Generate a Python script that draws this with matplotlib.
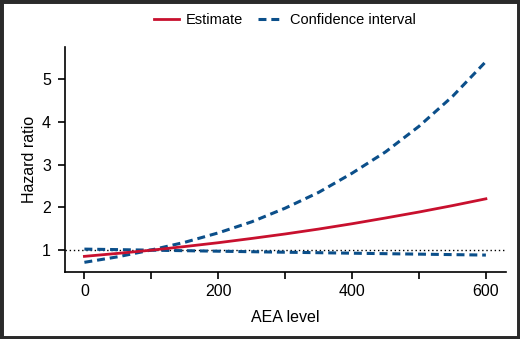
import numpy as np
import matplotlib.pyplot as plt
from matplotlib.patches import Rectangle
from matplotlib.ticker import MultipleLocator

# values, every 50 units of AEA
aea = [0, 50, 100, 150, 200, 250, 300, 350, 400, 450, 500, 550, 600]
estimate = [0.85, 0.92, 0.995, 1.08, 1.17, 1.27, 1.375, 1.49, 1.615, 1.75, 1.89, 2.04, 2.2]
ci_a = [0.71, 0.84, 1.0, 1.18, 1.40, 1.66, 1.98, 2.35, 2.80, 3.30, 3.90, 4.60, 5.42]
ci_b = [1.02, 1.008, 0.995, 0.983, 0.971, 0.959, 0.947, 0.936, 0.924, 0.913, 0.902, 0.891, 0.88]

red = '#c8102e'
blue = '#0b4f8a'

plt.rcParams['font.family'] = ['Liberation Sans', 'DejaVu Sans']

fig = plt.figure(figsize=(5.2, 3.39), dpi=100)
ax = fig.add_axes([0.125, 0.197, 0.848, 0.663])

ax.axhline(1, color='black', lw=1, ls=(0, (1, 2)), zorder=1)
ax.plot(aea, estimate, color=red, lw=2, label='Estimate', zorder=3)
ax.plot(aea, ci_a, color=blue, lw=2.2, ls=(0, (2.6, 1.6)), label='Confidence interval', zorder=2)
ax.plot(aea, ci_b, color=blue, lw=2.2, ls=(0, (2.6, 1.6)), zorder=2)

ax.set_xlim(-29, 630)
ax.set_ylim(0.478, 5.75)
ax.set_xticks([0, 200, 400, 600])
ax.xaxis.set_minor_locator(MultipleLocator(100))
ax.set_yticks([1, 2, 3, 4, 5])

for s in ['top', 'right']:
    ax.spines[s].set_visible(False)
for s in ['left', 'bottom']:
    ax.spines[s].set_linewidth(1.2)
ax.tick_params(which='both', length=5, width=1.2, labelsize=11.5, color='black')
ax.tick_params(axis='x', which='minor', length=5, width=1.2)
ax.tick_params(axis='y', pad=5)

ax.set_xlabel('AEA level', fontsize=11.5, labelpad=8)
ax.set_ylabel('Hazard ratio', fontsize=11.5, labelpad=4)

fig.legend(loc='center', bbox_to_anchor=(0.548, 0.94), ncol=2, frameon=False,
           fontsize=10.5, handlelength=1.7, columnspacing=1.0, handletextpad=0.5)

fig.patches.append(Rectangle((0, 0), 1, 1, transform=fig.transFigure, fill=False,
                             ec='#2a2a2a', lw=5))

fig.savefig('out.png', dpi=100)
